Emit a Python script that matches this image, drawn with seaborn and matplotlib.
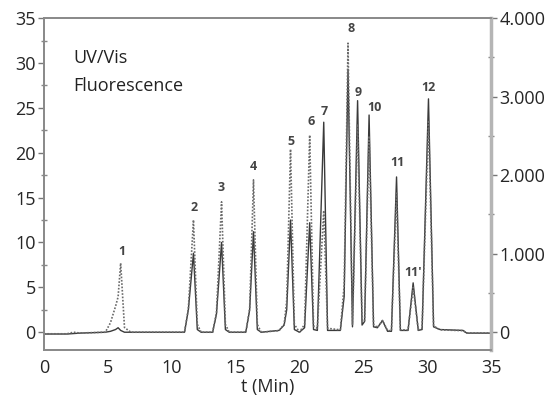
import matplotlib
matplotlib.use("Agg")
import matplotlib.pyplot as plt
import seaborn as sns
import pandas as pd
from matplotlib.ticker import MultipleLocator, FuncFormatter

# chromatogram points
time_min = [0.0, 1.8, 2.3, 2.8, 4.8, 5.2, 5.6, 5.8, 6.0, 6.3, 6.8,
            11.0, 11.3, 11.7, 12.0, 12.3, 13.2, 13.5, 13.9, 14.2, 14.5,
            15.8, 16.1, 16.4, 16.7, 17.0, 18.4, 18.8, 19.0, 19.3, 19.6,
            20.0, 20.4, 20.8, 21.1, 21.4, 21.9, 22.2, 23.2, 23.5, 23.8,
            24.15, 24.55, 24.9, 25.1, 25.45, 25.8, 26.1, 26.5, 26.9, 27.2,
            27.6, 27.9, 28.5, 28.9, 29.3, 29.6, 30.1, 30.5, 31.0, 32.8,
            33.1, 35.0]
uv_vis = [-0.2, -0.2, -0.15, -0.1, 0.0, 0.1, 0.3, 0.5, 0.2, 0.0, 0.0,
          0.0, 2.5, 8.8, 0.3, 0.0, 0.0, 2.0, 10.0, 0.3, 0.0,
          0.0, 2.5, 11.2, 0.3, 0.0, 0.2, 0.8, 2.5, 12.5, 0.3,
          0.0, 0.5, 12.2, 0.3, 0.2, 23.4, 0.2, 0.2, 4.0, 29.3,
          0.6, 25.8, 0.8, 1.2, 24.2, 0.6, 0.5, 1.3, 0.1, 0.1,
          17.3, 0.2, 0.2, 5.5, 0.2, 0.3, 26.0, 0.6, 0.3, 0.2,
          -0.1, -0.1]
fluorescence = [-20, -20, 0, -10, 0, 120, 330, 450, 880, 60, 0,
                0, 300, 1430, 100, 0, 0, 250, 1660, 100, 0,
                0, 300, 1940, 100, 0, 20, 100, 400, 2330, 100,
                0, 100, 2510, 80, 50, 1550, 50, 30, 600, 3680,
                100, 2650, 150, 150, 2500, 100, 60, 150, 20, 20,
                1770, 30, 30, 570, 30, 50, 2700, 80, 30, 20,
                -10, -10]

peak_names = ["1", "2", "3", "4", "5", "6", "7", "8", "9", "10", "11", "11'", "12"]
peak_times = [6.1, 11.75, 13.9, 16.4, 19.3, 20.9, 21.9, 24.0, 24.6, 25.9, 27.7, 28.9, 30.1]
peak_label_heights = [9.0, 13.9, 16.1, 18.5, 21.3, 23.5, 24.6, 33.8, 26.7, 25.0, 18.9, 6.6, 27.3]

df = pd.DataFrame({"t": time_min, "uv": uv_vis, "fl": fluorescence})

sns.set_style("white")
plt.rcParams["font.family"] = ["Open Sans", "DejaVu Sans"]

fig = plt.figure(figsize=(5.53, 4.11), dpi=100)
ax = fig.add_axes([0.0796, 0.148, 0.8084, 0.808])
ax2 = ax.twinx()

sns.lineplot(data=df, x="t", y="uv", ax=ax, color="#3a3a3a", linewidth=1.0,
             estimator=None, sort=False)
sns.lineplot(data=df, x="t", y="fl", ax=ax2, color="#6a6a6a", linewidth=1.2,
             linestyle=(0, (1, 1)), estimator=None, sort=False)

ax.set_xlim(0, 35)
ax.set_ylim(-2, 35)
ax2.set_ylim(-2 * 4000 / 35, 4000)

ax.xaxis.set_major_locator(MultipleLocator(5))
ax.xaxis.set_minor_locator(MultipleLocator(2.5))
ax.yaxis.set_major_locator(MultipleLocator(5))
ax.yaxis.set_minor_locator(MultipleLocator(2.5))
ax2.set_yticks([0, 1000, 2000, 3000, 4000])
ax2.yaxis.set_minor_locator(MultipleLocator(500))
ax2.yaxis.set_major_formatter(FuncFormatter(lambda v, p: f"{v:,.0f}".replace(",", ".")))

for a in (ax, ax2):
    a.tick_params(which="major", direction="out", length=4, width=1, color="#777777",
                  labelsize=13, pad=2)
    a.tick_params(which="minor", direction="inout", length=4, width=1, color="#888888")
    for s in a.spines.values():
        s.set_color("#8a8a8a")
        s.set_linewidth(1.3)
ax2.spines["right"].set_linewidth(2.5)
ax2.spines["right"].set_color("#b5b5b5")

ax.set_xlabel("t (Min)", fontsize=13, labelpad=1)
ax.set_ylabel("")
ax2.set_ylabel("")

ax.text(2.3, 30.6, "UV/Vis", fontsize=13, ha="left", va="center", color="#222222")
ax.text(2.3, 27.4, "Fluorescence", fontsize=13, ha="left", va="center", color="#222222")

for name, t, h in zip(peak_names, peak_times, peak_label_heights):
    ax.text(t, h, name, fontsize=9, fontweight="bold", ha="center", va="center",
            color="#444444")

fig.savefig("out.png", dpi=100)
